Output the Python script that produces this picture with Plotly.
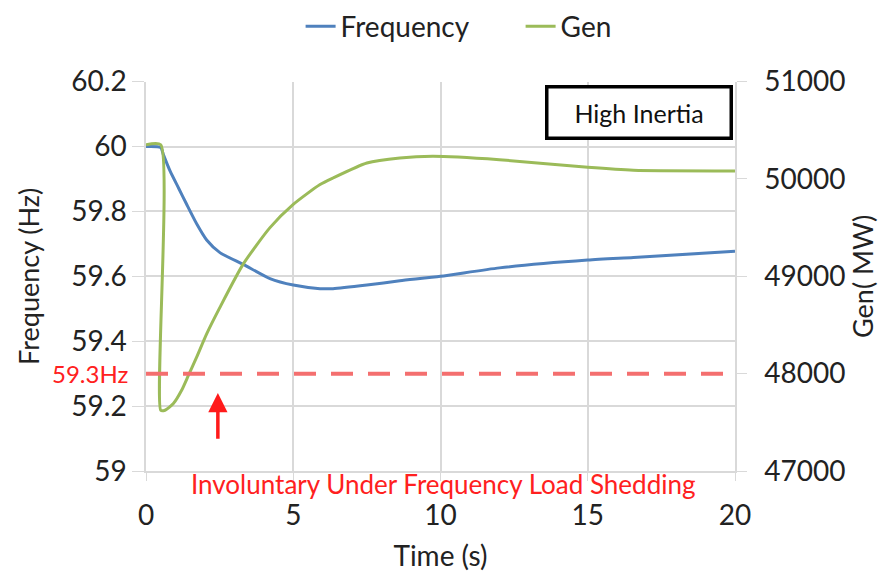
import plotly.graph_objects as go

# ==== Data ====
freq_t = [0, 0.5, 0.59, 0.82, 1.10, 1.38, 1.72, 2.06, 2.51, 3.3, 4.21, 5.0, 5.91, 6.35, 7.5, 8.62, 10, 12, 15,
          16.55, 20]
freq_hz = [60.0, 59.997, 59.975, 59.924, 59.873, 59.822, 59.762, 59.712, 59.673, 59.637, 59.593, 59.573, 59.562,
           59.562, 59.573, 59.586, 59.60, 59.626, 59.65, 59.658, 59.677]

gen_t = [0, 0.5, 0.5, 0.645, 0.93, 1.21, 1.44, 1.72, 2.06, 2.51, 3.3, 4.21, 5.0, 5.91, 6.35, 7.5, 8.62, 9.75,
         12, 15, 16.55, 20]
gen_mw = [50352, 50352, 47624, 47624, 47693, 47829, 47982, 48170, 48409, 48681, 49125, 49500, 49739, 49943,
          50010, 50164, 50216, 50233, 50198, 50120, 50090, 50083]

threshold_hz = 59.3

GRID = "#d9d9d9"
FONT = "Lato, 'Open Sans', sans-serif"

fig = go.Figure()
fig.add_trace(go.Scatter(x=freq_t, y=freq_hz, mode="lines", name="Frequency",
                         line=dict(color="#4f81bd", width=3, shape="spline", smoothing=0.6)))
fig.add_trace(go.Scatter(x=gen_t, y=gen_mw, mode="lines", name="Gen", yaxis="y2",
                         line=dict(color="#9bbb59", width=3, shape="spline", smoothing=0.6)))

# 59.3 Hz threshold
fig.add_shape(type="line", xref="paper", x0=0, x1=1, yref="y", y0=threshold_hz, y1=threshold_hz,
              line=dict(color="#f46f6f", width=4, dash="22px,15px"))

fig.update_layout(
    width=886, height=576,
    # page body adds an 8px offset, so margins are shifted to compensate
    margin=dict(l=138, r=159, t=72, b=113),
    paper_bgcolor="white", plot_bgcolor="white",
    font=dict(family=FONT, size=28, color="#222"),
    showlegend=True,
    legend=dict(orientation="h", xref="paper", x=0.636, xanchor="center",
                yref="container", y=0.968, yanchor="middle",
                font=dict(size=28), traceorder="normal", entrywidth=175),
    xaxis=dict(range=[0, 20], tickvals=[0, 5, 10, 15, 20], showgrid=True, gridcolor=GRID, gridwidth=1.5,
               showline=True, linecolor=GRID, linewidth=1.5, ticks="outside", tickcolor=GRID, ticklen=8,
               ticklabelstandoff=11, zeroline=False,
               title=dict(text="Time (s)", font=dict(size=28), standoff=16),
               tickfont=dict(size=28)),
    yaxis=dict(range=[59, 60.2], tickvals=[59, 59.2, 59.4, 59.6, 59.8, 60, 60.2],
               ticktext=["59", "59.2", "59.4", "59.6", "59.8", "60", "60.2"],
               showgrid=True, gridcolor=GRID, gridwidth=1.5, showline=True, linecolor=GRID, linewidth=1.5,
               ticks="outside", tickcolor=GRID, ticklen=12, zeroline=False,
               title=dict(text="Frequency (Hz)", font=dict(size=27), standoff=24), tickfont=dict(size=28)),
    yaxis2=dict(range=[47000, 51000], tickvals=[47000, 48000, 49000, 50000, 51000],
                ticktext=["47000", "48000", "49000", "50000", "51000"], overlaying="y",
                side="right", showgrid=False, showline=True, linecolor=GRID, linewidth=1.5,
                ticks="outside", tickcolor=GRID, ticklen=10, ticklabelstandoff=12, zeroline=False,
                title=dict(text="Gen( MW)", font=dict(size=27), standoff=7), tickfont=dict(size=28)),
)

# "High Inertia" box
fig.add_annotation(x=0.837, y=0.992, xref="paper", yref="paper", xanchor="center", yanchor="top",
                   text="High Inertia", showarrow=False, font=dict(size=25, color="#111"),
                   bordercolor="black", borderwidth=3.5, borderpad=9, bgcolor="white", width=163)

# 59.3Hz label
fig.add_annotation(x=0, y=threshold_hz, xref="paper", yref="y", xanchor="right", yanchor="middle",
                   yshift=0, xshift=-16, text="59.3Hz", showarrow=False,
                   font=dict(size=24, color="#ff2020"))

# Upward arrow
fig.add_annotation(x=2.44, y=59.24, ax=2.44, ay=59.095, xref="x", yref="y", axref="x", ayref="y",
                   text="", showarrow=True, arrowhead=2, arrowsize=1.1, arrowwidth=3.5, arrowcolor="#ff1a1a")

# Bottom caption
fig.add_annotation(x=0.505, y=59, xref="paper", yref="y", xanchor="center", yanchor="top", yshift=5,
                   text="Involuntary Under Frequency Load Shedding", showarrow=False,
                   font=dict(size=26, color="#ff2020"))

fig.write_html("out.html")
